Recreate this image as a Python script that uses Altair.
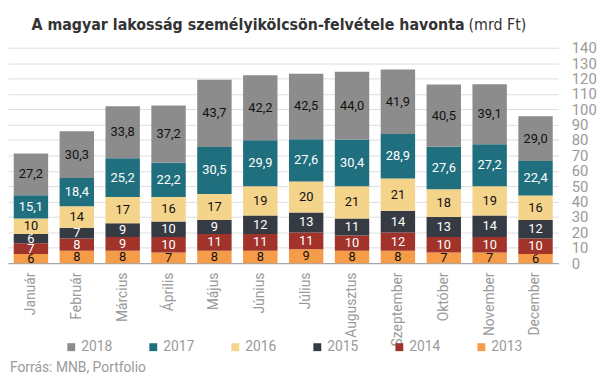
import altair as alt
import pandas as pd

months = ["Január", "Február", "Március", "Április", "Május", "Június",
          "Július", "Augusztus", "Szeptember", "Október", "November", "December"]
years = ["2018", "2017", "2016", "2015", "2014", "2013"]
v2013 = [6, 8, 8, 7, 8, 8, 9, 8, 8, 7, 7, 6]
v2014 = [7, 8, 9, 10, 11, 11, 11, 10, 12, 10, 10, 10]
v2015 = [6, 7, 9, 10, 9, 12, 13, 11, 14, 13, 14, 12]
v2016 = [10, 14, 17, 16, 17, 19, 20, 21, 21, 18, 19, 16]
v2017 = [15.1, 18.4, 25.2, 22.2, 30.5, 29.9, 27.6, 30.4, 28.9, 27.6, 27.2, 22.4]
v2018 = [27.2, 30.3, 33.8, 37.2, 43.7, 42.2, 42.5, 44.0, 41.9, 40.5, 39.1, 29.0]
colors = ["#8c8c8c", "#1f6f7e", "#f4d38b", "#363a43", "#a1332a", "#f59c49"]

title_bold = "A magyar lakosság személyikölcsön-felvétele havonta"
title_unit = "(mrd Ft)"
source = "Forrás: MNB, Portfolio"

series = {"2013": v2013, "2014": v2014, "2015": v2015,
          "2016": v2016, "2017": v2017, "2018": v2018}
rows = []
for ordi, (yr, vals) in enumerate(series.items()):
    for m, v in zip(months, vals):
        lab = (f"{v:.1f}".replace(".", ",") if yr in ("2017", "2018") else str(int(v)))
        rows.append({"month": m, "year": yr, "value": v, "label": lab, "ord": ordi})
df = pd.DataFrame(rows)

FONT = "Roboto"
TFONT = "DejaVu Sans Condensed, Roboto"
GRAY = "#9a9a9a"

base = alt.Chart(df).transform_stack(
    stack="value", groupby=["month"],
    sort=[alt.SortField("ord", order="ascending")], as_=["y0", "y1"]
).transform_calculate(mid="(datum.y0 + datum.y1) / 2")

xaxis = alt.Axis(labelAngle=270, labelAlign="right", labelBaseline="middle",
                 ticks=False, domainColor="#999999", labelColor=GRAY,
                 labelFontSize=14, labelFont=FONT, labelPadding=9, grid=False)
yaxis = alt.Axis(orient="right", values=list(range(0, 141, 10)), ticks=False,
                 domain=False, gridColor="#dddddd", labelColor=GRAY, labelOverlap=False,
                 labelFontSize=15, labelFont=FONT, labelPadding=13)
yscale = alt.Scale(domain=[0, 140], nice=False)
xscale = alt.Scale(paddingInner=0.25)

bars = base.mark_bar().encode(
    x=alt.X("month:N", sort=months, title=None, scale=xscale, axis=xaxis),
    y=alt.Y("y0:Q", scale=yscale, title=None, axis=yaxis),
    y2="y1:Q",
    color=alt.Color("year:N", scale=alt.Scale(domain=years, range=colors),
                    legend=alt.Legend(title=None, orient="none", legendX=57, legendY=296,
                                      direction="horizontal", columns=6, symbolType="square",
                                      symbolSize=64, symbolStrokeWidth=0, labelFontSize=14,
                                      labelFont=FONT, labelColor=GRAY, columnPadding=34,
                                      labelOffset=3)),
)

texts = base.mark_text(fontSize=13, font=FONT, clip=True).encode(
    x=alt.X("month:N", sort=months, title=None, scale=xscale, axis=xaxis),
    y=alt.Y("mid:Q", scale=yscale, title=None, axis=yaxis),
    text="label:N",
    color=alt.condition("indexof(['2017','2015','2014'], datum.year) >= 0",
                        alt.value("white"), alt.value("#111111")),
)

t1 = alt.Chart(pd.DataFrame({"t": [title_bold]})).mark_text(
    font=TFONT, fontWeight="bold", fontSize=16, align="right",
    baseline="alphabetic", color="#333333"
).encode(x=alt.value(462), y=alt.value(-18), text="t:N")

t2 = alt.Chart(pd.DataFrame({"t": [title_unit]})).mark_text(
    font=TFONT, fontSize=16, align="left",
    baseline="alphabetic", color="#333333"
).encode(x=alt.value(466), y=alt.value(-18), text="t:N")

src = alt.Chart(pd.DataFrame({"t": [source]})).mark_text(
    font=FONT, fontSize=14, align="left", baseline="alphabetic", color=GRAY
).encode(x=alt.value(2), y=alt.value(328), text="t:N")

chart = alt.layer(bars, texts, t1, t2, src).properties(
    width=557, height=218,
    padding={"left": 0, "top": 7, "right": 0, "bottom": 2},
).configure_view(stroke=None)

chart.save("out.html", embed_options={"renderer": "svg", "actions": False})
